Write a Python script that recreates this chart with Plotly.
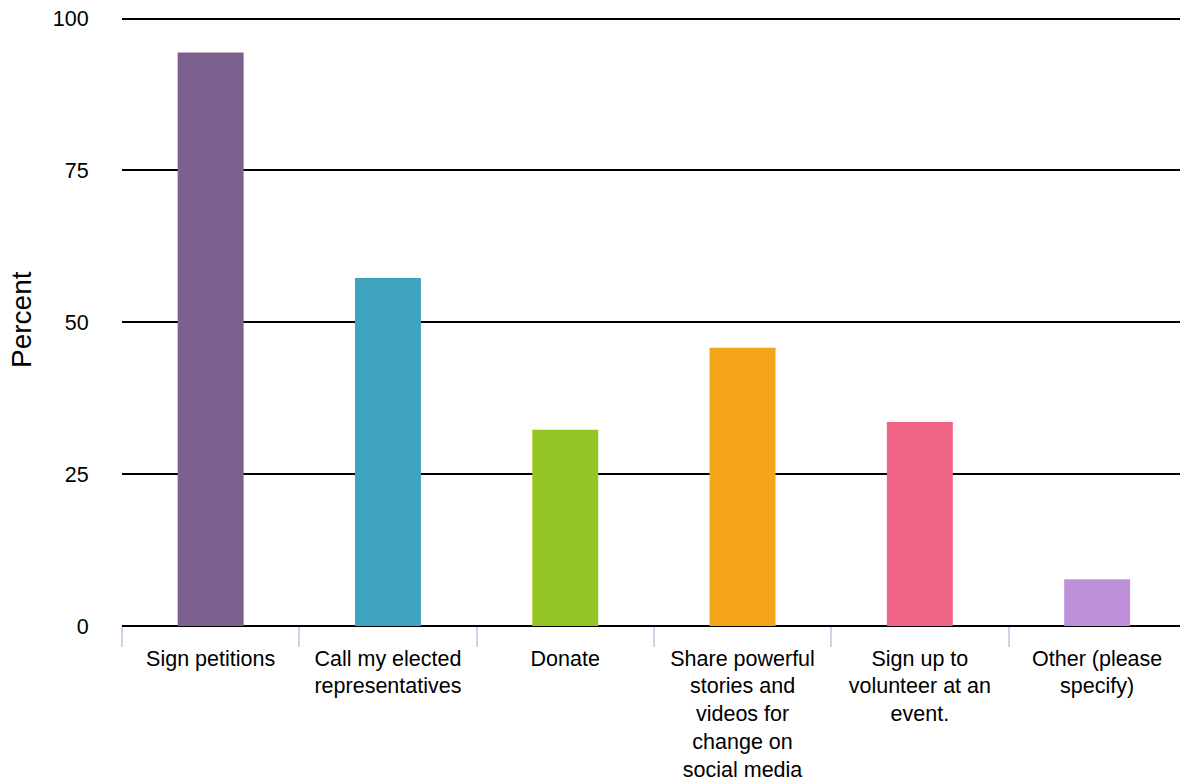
import plotly.graph_objects as go

categories = [
    "Sign petitions",
    "Call my elected representatives",
    "Donate",
    "Share powerful stories and videos for change on social media",
    "Sign up to volunteer at an event.",
    "Other (please specify)",
]
tick_labels = [
    "Sign petitions",
    "Call my elected<br>representatives",
    "Donate",
    "Share powerful<br>stories and<br>videos for<br>change on<br>social media",
    "Sign up to<br>volunteer at an<br>event.",
    "Other (please<br>specify)",
]
percent = [94.4, 57.3, 32.3, 45.8, 33.6, 7.7]
colors = ["#7c618f", "#40a4c1", "#96c626", "#f4a51b", "#f06587", "#bf91d9"]
y_ticks = [0, 25, 50, 75, 100]

FONT = "Liberation Sans, Arial, sans-serif"

fig = go.Figure(
    go.Bar(
        x=categories,
        y=percent,
        marker=dict(color=colors, line=dict(width=0)),
        width=0.372,
        hoverinfo="x+y",
    )
)

fig.update_layout(
    width=1180,
    height=784,
    margin=dict(l=122, r=0, t=17, b=158, autoexpand=False),
    paper_bgcolor="white",
    plot_bgcolor="white",
    font=dict(family=FONT, size=21.5, color="#000000"),
    showlegend=False,
)

fig.update_xaxes(
    type="category",
    tickmode="array",
    tickvals=categories,
    ticktext=tick_labels,
    range=[-0.5, -0.5 + 1058 / 177.3],
    tickson="boundaries",
    ticks="outside",
    ticklen=20,
    tickwidth=2,
    tickcolor="#c9d5ea",
    ticklabelstandoff=17,
    ticklabeloverflow="allow",
    showgrid=False,
    showline=False,
    zeroline=False,
    tickfont=dict(size=21.5, family=FONT, color="#000000"),
)

fig.update_yaxes(
    range=[0, 100.25],
    tickmode="array",
    tickvals=y_ticks,
    ticktext=[str(v) for v in y_ticks],
    showgrid=True,
    gridcolor="#000000",
    gridwidth=2,
    zeroline=True,
    zerolinecolor="#000000",
    zerolinewidth=2,
    showline=False,
    ticks="outside",
    ticklen=28,
    tickcolor="rgba(0,0,0,0)",
    ticklabeloverflow="allow",
    tickfont=dict(size=21.5, family=FONT, color="#000000"),
)

fig.add_annotation(
    text="Percent",
    xref="paper",
    yref="paper",
    x=(22 - 122) / 1058,
    y=(626 - 320) / 609,
    xanchor="center",
    yanchor="middle",
    textangle=-90,
    showarrow=False,
    font=dict(size=28, family=FONT, color="#000000"),
)

fig.write_html(
    "out.html",
    config={"displayModeBar": False},
    post_script=(
        "document.documentElement.style.margin='0';"
        "document.documentElement.style.overflow='hidden';"
        "document.body.style.margin='0';"
        "document.body.style.padding='0';"
        "document.body.style.overflow='hidden';"
    ),
)
